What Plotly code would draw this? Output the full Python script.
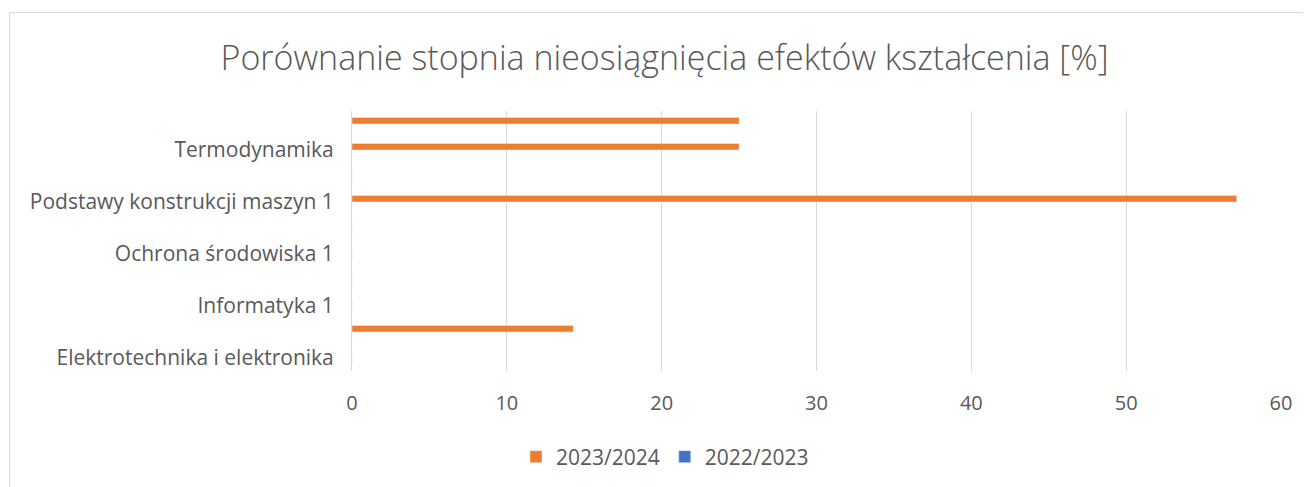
import plotly.graph_objects as go

# Categories from bottom to top (only every other label is shown on the axis)
categories = [
    "Elektrotechnika i elektronika",
    "Grafika inżynierska",
    "Informatyka 1",
    "Mechanika 1",
    "Ochrona środowiska 1",
    "Podstawy automatyki",
    "Podstawy konstrukcji maszyn 1",
    "Technologia maszyn",
    "Termodynamika",
    "Wytrzymałość materiałów",
]
shown_labels = categories[0::2]

values_2023_2024 = [0, 14.29, 0, 0, 0, 0, 57.14, 0, 25, 25]
values_2022_2023 = [0, 0, 0, 0, 0, 0, 0, 0, 0, 0]

x_ticks = [0, 10, 20, 30, 40, 50, 60]

FONT = "Open Sans"
GRAY = "#595959"
GRID = "#d9d9d9"

fig = go.Figure()
fig.add_trace(go.Bar(
    y=categories, x=values_2022_2023, orientation="h",
    name="2022/2023", marker=dict(color="#4472C4"), legendrank=2,
))
fig.add_trace(go.Bar(
    y=categories, x=values_2023_2024, orientation="h",
    name="2023/2024", marker=dict(color="#ED7D31"), legendrank=1,
))

# page body has an 8px margin; work in figure coordinates = reference - 8
OFF = 8
W, H = 1311 - OFF, 487 - OFF
L, R, T, B = 352 - OFF, 1281 - OFF, 111 - OFF, 371 - OFF

fig.update_layout(
    width=W, height=H,
    margin=dict(l=L, r=W - R, t=T, b=H - B, autoexpand=False),
    paper_bgcolor="white", plot_bgcolor="white",
    barmode="group", bargap=0.5, bargroupgap=0,
    font=dict(family=FONT, color=GRAY),
    title=dict(
        text="Porównanie stopnia nieosiągnięcia efektów kształcenia [%]",
        font=dict(family=FONT, size=34, color=GRAY, weight=300),
        x=(664.5 - OFF) / W, xref="container", xanchor="center",
        y=1 - (58 - OFF) / H, yref="container", yanchor="middle",
    ),
    legend=dict(
        orientation="h", xref="container", yref="container",
        x=(665 - OFF) / W, xanchor="center", y=1 - (457 - OFF) / H, yanchor="middle",
        font=dict(family=FONT, size=21, color=GRAY),
        traceorder="normal",
    ),
    xaxis=dict(
        range=[0, 60], tickvals=x_ticks, showgrid=True, gridcolor=GRID, gridwidth=1,
        zeroline=False, showline=False, ticks="",
        tickfont=dict(family=FONT, size=20, color=GRAY),
        ticklabelstandoff=18, fixedrange=True,
    ),
    yaxis=dict(
        type="category", categoryorder="array", categoryarray=categories,
        tickvals=shown_labels, ticktext=shown_labels,
        showgrid=False, zeroline=False, showline=True, linecolor=GRID, linewidth=1,
        ticks="", tickfont=dict(family=FONT, size=21, color=GRAY),
        ticklabelstandoff=13, fixedrange=True,
    ),
    showlegend=True,
)

# Chart-area border (left and top edges visible)
pw, ph = R - L, B - T
fig.add_shape(
    type="rect", xref="paper", yref="paper",
    x0=(9.5 - OFF - L) / pw, x1=(W + 20 - L) / pw,
    y0=(B - (H + 20)) / ph, y1=(B - (12.5 - OFF)) / ph,
    line=dict(color=GRID, width=1), fillcolor="rgba(0,0,0,0)", layer="below",
)

fig.write_html("out.html")
